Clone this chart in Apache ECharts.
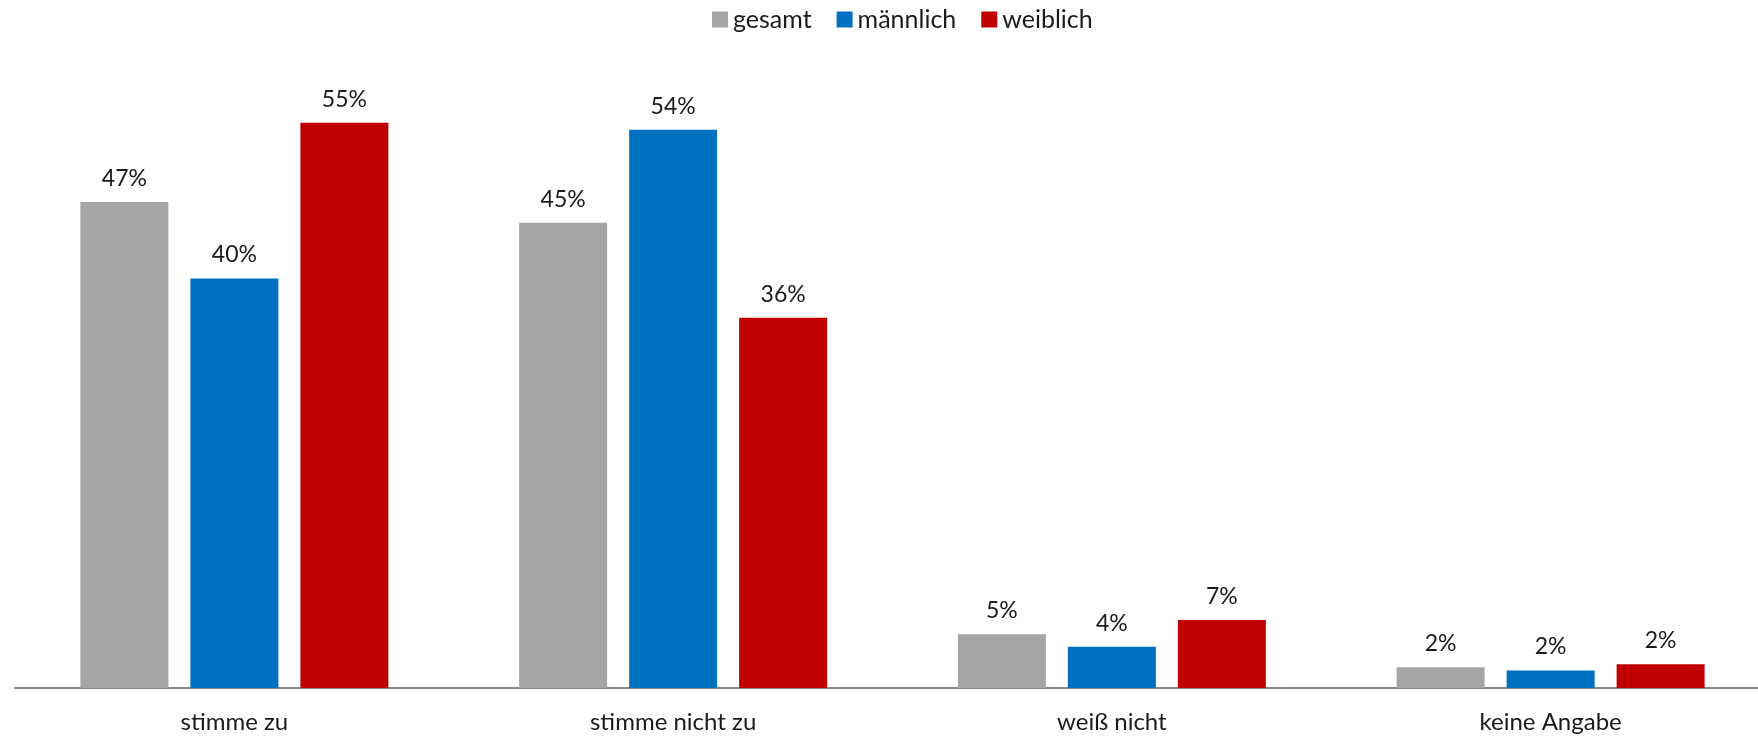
<!DOCTYPE html>
<html>
<head>
<meta charset="utf-8">
<script src="https://cdn.jsdelivr.net/npm/echarts@6/dist/echarts.min.js"></script>
<style>
  html, body { margin: 0; padding: 0; background: #fff; }
  #chart { width: 1758px; height: 737px; }
</style>
</head>
<body>
<div id="chart"></div>
<script>
const categories = ["stimme zu", "stimme nicht zu", "weiß nicht", "keine Angabe"];
const gesamt = [47.1, 45.1, 5.2, 2.0];
const maennlich = [39.7, 54.1, 4.0, 1.7];
const weiblich = [54.8, 35.9, 6.6, 2.3];

const chart = echarts.init(document.getElementById("chart"));

const labelOpt = {
  show: true,
  position: "top",
  distance: 12,
  color: "#1a1a1a",
  fontSize: 23,
  fontFamily: "Lato",
  formatter: (p) => Math.round(p.value) + "%",
};

function bar(name, data, color) {
  return {
    name: name,
    type: "bar",
    data: data,
    barWidth: 88,
    barGap: "25%",
    itemStyle: { color: color },
    label: labelOpt,
  };
}

const option = {
  animation: false,
  legend: {
    top: 2,
    left: 707,
    itemWidth: 16,
    itemHeight: 16,
    itemGap: 25,
    icon: "rect",
    textStyle: { fontSize: 25, fontFamily: "Lato", color: "#1a1a1a" },
  },
  // let the last category run past the right edge like the original
  grid: { left: 15, width: 1755, top: 69, bottom: 49, outerBoundsMode: "none" },
  xAxis: {
    type: "category",
    data: categories,
    axisLine: { lineStyle: { color: "#898989", width: 2 } },
    axisTick: { show: false },
    axisLabel: { fontSize: 24, fontFamily: "Lato", color: "#1a1a1a", margin: 22 },
  },
  yAxis: {
    type: "value",
    min: 0,
    max: 60,
    show: false,
    splitLine: { show: false },
  },
  series: [
    bar("gesamt", gesamt, "#A5A5A5"),
    bar("männlich", maennlich, "#0070C0"),
    bar("weiblich", weiblich, "#C00000"),
  ],
};

chart.setOption(option);
</script>
</body>
</html>
